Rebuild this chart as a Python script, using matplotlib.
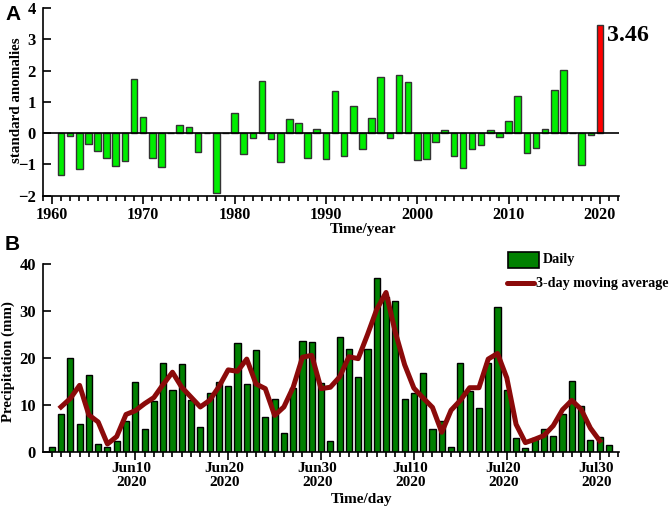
import numpy as np
import matplotlib
matplotlib.use("Agg")
import matplotlib.pyplot as plt
from matplotlib.lines import Line2D
from matplotlib.patches import Rectangle
from matplotlib.transforms import ScaledTranslation

plt.rcParams['font.family'] = ['Liberation Serif', 'DejaVu Serif']
plt.rcParams['font.weight'] = 'bold'

W, H = 671, 509
LINE_RED = '#8b0a0a'
BAR_GREEN = '#008000'

years = list(range(1961, 2021))
anomalies = [-1.33, -0.08, -1.16, -0.36, -0.57, -0.79, -1.06, -0.89, 1.73, 0.53,
             -0.80, -1.09, 0.01, 0.27, 0.20, -0.60, 0.00, -1.90, 0.01, 0.65,
             -0.67, -0.16, 1.66, -0.20, -0.93, 0.46, 0.31, -0.78, 0.14, -0.82,
             1.36, -0.72, 0.88, -0.52, 0.49, 1.78, -0.17, 1.86, 1.65, -0.87,
             -0.82, -0.29, 0.09, -0.72, -1.12, -0.52, -0.37, 0.11, -0.13, 0.40,
             1.19, -0.64, -0.46, 0.13, 1.39, 2.03, 0.00, -1.03, -0.07, 3.46]

days = list(range(1, 62))
daily = [1.0, 8.0, 20.0, 6.0, 16.5, 1.6, 1.0, 2.4, 6.5, 15.0,
         4.8, 10.8, 19.0, 13.3, 18.8, 11.0, 5.3, 12.6, 15.0, 14.0,
         23.2, 14.4, 21.7, 7.4, 11.4, 4.0, 13.6, 23.6, 23.4, 14.8,
         2.3, 24.5, 22.0, 15.9, 22.0, 37.1, 33.0, 32.1, 11.3, 12.5,
         16.9, 5.0, 6.6, 1.1, 19.0, 12.9, 9.4, 19.0, 31.0, 13.3,
         3.0, 0.8, 3.0, 5.0, 3.5, 8.2, 15.2, 9.7, 2.5, 3.2, 1.5]

avg_days = list(range(2, 61))
moving_avg = [9.6, 11.4, 14.2, 7.9, 6.4, 1.7, 3.3, 8.0, 8.8, 10.3,
              11.6, 14.4, 17.0, 13.8, 11.7, 9.6, 11.0, 13.9, 17.5, 17.2,
              19.8, 14.5, 13.5, 7.8, 9.6, 13.8, 20.2, 20.6, 13.5, 13.8,
              16.0, 20.3, 19.9, 25.0, 30.4, 34.0, 25.5, 18.6, 13.6, 11.5,
              9.5, 4.2, 8.9, 11.0, 13.7, 13.7, 19.8, 21.0, 15.8, 5.9,
              2.0, 2.7, 3.5, 5.6, 9.0, 11.0, 9.1, 5.1, 2.4]

date_ticks = [10, 20, 30, 40, 50, 60]
date_labels = ['Jun10\n2020', 'Jun20\n2020', 'Jun30\n2020',
               'Jul10\n2020', 'Jul20\n2020', 'Jul30\n2020']


def make_axes(left, right, top, bottom):
    return fig.add_axes([left / W, 1 - bottom / H, (right - left) / W, (bottom - top) / H])


def style_axes(ax):
    ax.spines['top'].set_visible(False)
    ax.spines['right'].set_visible(False)
    ax.spines['left'].set_linewidth(1.2)
    ax.spines['bottom'].set_linewidth(1.2)
    ax.tick_params(axis='y', which='major', direction='in', length=5.8, width=1.2,
                   labelsize=12, pad=5)
    ax.tick_params(axis='x', which='major', direction='out', length=5.4, width=1.2,
                   labelsize=11.6, pad=2.5)
    ax.tick_params(axis='x', which='minor', direction='out', length=3.6, width=1.2)
    ax.patch.set_alpha(0)


def px_text(x, y, s, **kw):
    fig.text(x / W, 1 - y / H, s, ha=kw.pop('ha', 'center'), va=kw.pop('va', 'center'), **kw)


fig = plt.figure(figsize=(W / 100, H / 100), dpi=100)

# panel A
ax1 = make_axes(42.7, 618.7, 8, 195.7)
colors = ['#00ee00'] * (len(years) - 1) + ['#ff0000']
ax1.bar(years, anomalies, width=0.72, color=colors, edgecolor='#333333', linewidth=1.0, zorder=2)
ax1.axhline(0, color='black', lw=1.2, zorder=3)
ax1.set_xlim(1959, 2022.05)
ax1.set_ylim(-2, 4)
ax1.set_xticks(range(1960, 2021, 10))
ax1.set_xticks(range(1959, 2023), minor=True)
ax1.set_yticks(range(-2, 5))
style_axes(ax1)
ax1.text(2020.75, 3.13, '3.46', fontsize=17.2, va='center', ha='left')
px_text(363.5, 230, 'Time/year', fontsize=11)
px_text(17, 100, 'standard anomalies', fontsize=10.8, rotation=90)
px_text(5, 20, 'A', family=['Liberation Sans'], fontweight='bold', fontsize=15, ha='left', va='baseline')

# panel B
ax2 = make_axes(42.7, 618.7, 264.3, 452)
ax2.bar(days, daily, width=0.66, color=BAR_GREEN, edgecolor='black', linewidth=1.0, zorder=2)
ax2.plot(avg_days, moving_avg, color=LINE_RED, lw=3.6, solid_joinstyle='round', zorder=3)
ax2.set_xlim(0.03, 62.05)
ax2.set_ylim(0, 40)
ax2.set_xticks(date_ticks)
ax2.set_xticklabels(date_labels, linespacing=1.1)
ax2.set_xticks(range(1, 63), minor=True)
ax2.set_yticks(range(0, 41, 10))
style_axes(ax2)
ax2.tick_params(axis='x', which='major', labelsize=11, pad=2)
# the date labels sit a little left of their ticks in the original
shift = ScaledTranslation(-3.5 / 100, 0, fig.dpi_scale_trans)
for label in ax2.get_xticklabels():
    label.set_transform(label.get_transform() + shift)
px_text(361.5, 500, 'Time/day', fontsize=11)
px_text(8, 362, 'Precipitation (mm)', fontsize=10.7, rotation=90)
px_text(5, 250, 'B', family=['Liberation Sans'], fontweight='bold', fontsize=15, ha='left', va='baseline')

# legend, placed by hand like the original
fig.add_artist(Rectangle((508 / W, 1 - 267.5 / H), 31 / W, 15.5 / H, transform=fig.transFigure,
                         facecolor=BAR_GREEN, edgecolor='black', linewidth=1.2))
fig.add_artist(Line2D([507 / W, 534 / W], [1 - 283 / H, 1 - 283 / H], transform=fig.transFigure,
                      color=LINE_RED, lw=3.6, solid_capstyle='round'))
px_text(543, 260, 'Daily', fontsize=10.2, ha='left')
px_text(535.5, 283, '3-day moving average', fontsize=10.2, ha='left')

fig.savefig('out.png', dpi=100)
